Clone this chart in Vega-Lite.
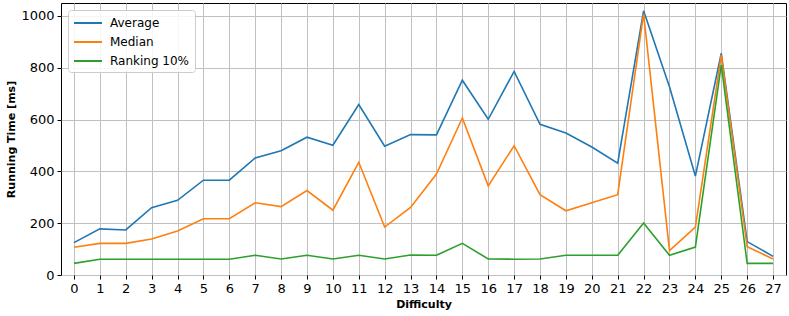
{
  "$schema": "https://vega.github.io/schema/vega-lite/v6.json",
  "autosize": "none",
  "width": 725,
  "height": 272,
  "padding": {"left": 61, "top": 3, "right": 3, "bottom": 41},
  "background": "white",
  "config": {
    "font": "DejaVu Sans",
    "view": {"stroke": "black", "strokeWidth": 1},
    "axis": {
      "grid": true,
      "gridColor": "#c0c0c0",
      "gridWidth": 1,
      "domain": false,
      "tickColor": "black",
      "tickSize": 4,
      "tickWidth": 1,
      "labelColor": "black",
      "labelFontSize": 13,
      "labelPadding": 3,
      "titleFontSize": 11,
      "titleFontWeight": "bold",
      "titleColor": "black"
    }
  },
  "data": {
    "values": [
      {"d": 0, "s": "Average", "v": 125}, {"d": 1, "s": "Average", "v": 178}, {"d": 2, "s": "Average", "v": 174}, {"d": 3, "s": "Average", "v": 260},
      {"d": 4, "s": "Average", "v": 288}, {"d": 5, "s": "Average", "v": 366}, {"d": 6, "s": "Average", "v": 366}, {"d": 7, "s": "Average", "v": 452},
      {"d": 8, "s": "Average", "v": 480}, {"d": 9, "s": "Average", "v": 532}, {"d": 10, "s": "Average", "v": 501}, {"d": 11, "s": "Average", "v": 658},
      {"d": 12, "s": "Average", "v": 497}, {"d": 13, "s": "Average", "v": 542}, {"d": 14, "s": "Average", "v": 541}, {"d": 15, "s": "Average", "v": 752},
      {"d": 16, "s": "Average", "v": 601}, {"d": 17, "s": "Average", "v": 786}, {"d": 18, "s": "Average", "v": 582}, {"d": 19, "s": "Average", "v": 548},
      {"d": 20, "s": "Average", "v": 494}, {"d": 21, "s": "Average", "v": 432}, {"d": 22, "s": "Average", "v": 1020}, {"d": 23, "s": "Average", "v": 727},
      {"d": 24, "s": "Average", "v": 382}, {"d": 25, "s": "Average", "v": 856}, {"d": 26, "s": "Average", "v": 129}, {"d": 27, "s": "Average", "v": 72},
      {"d": 0, "s": "Median", "v": 107}, {"d": 1, "s": "Median", "v": 122}, {"d": 2, "s": "Median", "v": 122}, {"d": 3, "s": "Median", "v": 139},
      {"d": 4, "s": "Median", "v": 170}, {"d": 5, "s": "Median", "v": 217}, {"d": 6, "s": "Median", "v": 217}, {"d": 7, "s": "Median", "v": 279},
      {"d": 8, "s": "Median", "v": 264}, {"d": 9, "s": "Median", "v": 326}, {"d": 10, "s": "Median", "v": 250}, {"d": 11, "s": "Median", "v": 435},
      {"d": 12, "s": "Median", "v": 185}, {"d": 13, "s": "Median", "v": 261}, {"d": 14, "s": "Median", "v": 390}, {"d": 15, "s": "Median", "v": 606},
      {"d": 16, "s": "Median", "v": 344}, {"d": 17, "s": "Median", "v": 499}, {"d": 18, "s": "Median", "v": 310}, {"d": 19, "s": "Median", "v": 248},
      {"d": 20, "s": "Median", "v": 279}, {"d": 21, "s": "Median", "v": 310}, {"d": 22, "s": "Median", "v": 1008}, {"d": 23, "s": "Median", "v": 94},
      {"d": 24, "s": "Median", "v": 185}, {"d": 25, "s": "Median", "v": 849}, {"d": 26, "s": "Median", "v": 109}, {"d": 27, "s": "Median", "v": 62},
      {"d": 0, "s": "Ranking 10%", "v": 45}, {"d": 1, "s": "Ranking 10%", "v": 61}, {"d": 2, "s": "Ranking 10%", "v": 61}, {"d": 3, "s": "Ranking 10%", "v": 61},
      {"d": 4, "s": "Ranking 10%", "v": 61}, {"d": 5, "s": "Ranking 10%", "v": 61}, {"d": 6, "s": "Ranking 10%", "v": 61}, {"d": 7, "s": "Ranking 10%", "v": 76},
      {"d": 8, "s": "Ranking 10%", "v": 62}, {"d": 9, "s": "Ranking 10%", "v": 76}, {"d": 10, "s": "Ranking 10%", "v": 62}, {"d": 11, "s": "Ranking 10%", "v": 76},
      {"d": 12, "s": "Ranking 10%", "v": 62}, {"d": 13, "s": "Ranking 10%", "v": 77}, {"d": 14, "s": "Ranking 10%", "v": 76}, {"d": 15, "s": "Ranking 10%", "v": 122},
      {"d": 16, "s": "Ranking 10%", "v": 62}, {"d": 17, "s": "Ranking 10%", "v": 61}, {"d": 18, "s": "Ranking 10%", "v": 62}, {"d": 19, "s": "Ranking 10%", "v": 76},
      {"d": 20, "s": "Ranking 10%", "v": 76}, {"d": 21, "s": "Ranking 10%", "v": 76}, {"d": 22, "s": "Ranking 10%", "v": 201}, {"d": 23, "s": "Ranking 10%", "v": 76},
      {"d": 24, "s": "Ranking 10%", "v": 108}, {"d": 25, "s": "Ranking 10%", "v": 811}, {"d": 26, "s": "Ranking 10%", "v": 45}, {"d": 27, "s": "Ranking 10%", "v": 45}
    ]
  },
  "mark": {"type": "line", "strokeWidth": 1.6},
  "encoding": {
    "x": {
      "field": "d",
      "type": "quantitative",
      "title": "Difficulty",
      "scale": {"domain": [-0.5, 27.5], "nice": false, "zero": false},
      "axis": {"values": [0,1,2,3,4,5,6,7,8,9,10,11,12,13,14,15,16,17,18,19,20,21,22,23,24,25,26,27], "titlePadding": 3}
    },
    "y": {
      "field": "v",
      "type": "quantitative",
      "title": "Running Time [ms]",
      "scale": {"domain": [0, 1050], "nice": false},
      "axis": {"values": [0, 200, 400, 600, 800, 1000], "format": "d", "titlePadding": 4}
    },
    "color": {
      "field": "s",
      "type": "nominal",
      "scale": {"domain": ["Average", "Median", "Ranking 10%"], "range": ["#1f77b4", "#ff7f0e", "#2ca02c"]},
      "legend": {
        "title": null,
        "orient": "none",
        "legendX": 7,
        "legendY": 7,
        "symbolType": "M-1,0H3",
        "symbolSize": 196,
        "symbolStrokeWidth": 2,
        "labelFontSize": 12,
        "labelColor": "black",
        "labelOffset": 21,
        "padding": 5,
        "rowPadding": 5,
        "fillColor": "rgba(255,255,255,0.85)",
        "strokeColor": "#cccccc",
        "cornerRadius": 3
      }
    }
  }
}
